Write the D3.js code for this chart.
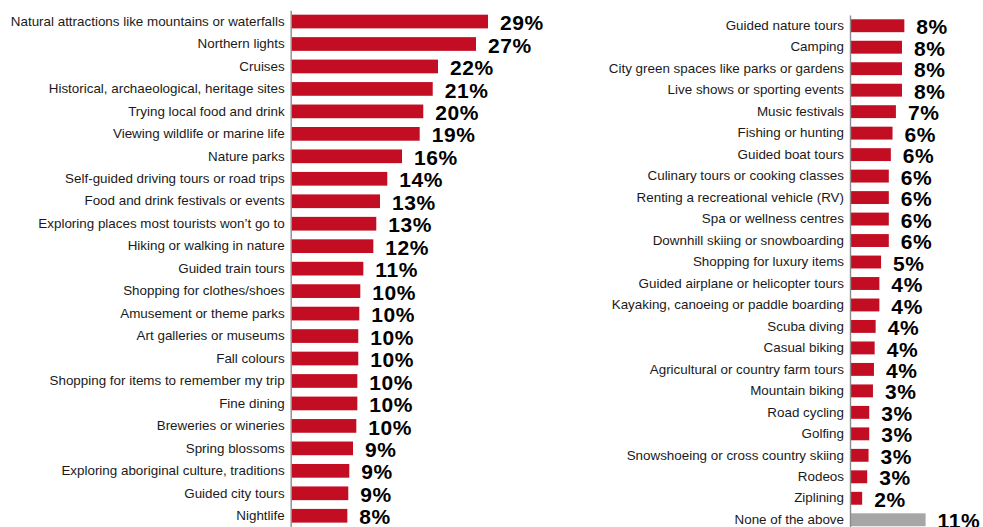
<!DOCTYPE html>
<html>
<head>
<meta charset="utf-8">
<script src="https://cdn.jsdelivr.net/npm/d3@7"></script>
<style>
  html, body { margin: 0; padding: 0; background: #fff; }
  svg { display: block; font-family: "Liberation Sans", Arial, sans-serif; }
</style>
</head>
<body>
<svg id="chart" width="983" height="527"></svg>
<script>
// Activities of interest, first column
const leftCategories = [
  "Natural attractions like mountains or waterfalls",
  "Northern lights",
  "Cruises",
  "Historical, archaeological, heritage sites",
  "Trying local food and drink",
  "Viewing wildlife or marine life",
  "Nature parks",
  "Self-guided driving tours or road trips",
  "Food and drink festivals or events",
  "Exploring places most tourists won\u2019t go to",
  "Hiking or walking in nature",
  "Guided train tours",
  "Shopping for clothes/shoes",
  "Amusement or theme parks",
  "Art galleries or museums",
  "Fall colours",
  "Shopping for items to remember my trip",
  "Fine dining",
  "Breweries or wineries",
  "Spring blossoms",
  "Exploring aboriginal culture, traditions",
  "Guided city tours",
  "Nightlife"
];
const leftValues = [
  29.23, 27.45, 21.82, 21.04, 19.64, 19.11, 16.49, 14.31, 13.23, 12.68, 12.24,
  10.76, 10.31, 10.16, 10.01, 10.01, 9.87, 9.87, 9.72, 9.23, 8.68, 8.53, 8.39
];

// Activities of interest, second column
const rightCategories = [
  "Guided nature tours",
  "Camping",
  "City green spaces like parks or gardens",
  "Live shows or sporting events",
  "Music festivals",
  "Fishing or hunting",
  "Guided boat tours",
  "Culinary tours or cooking classes",
  "Renting a recreational vehicle (RV)",
  "Spa or wellness centres",
  "Downhill skiing or snowboarding",
  "Shopping for luxury items",
  "Guided airplane or helicopter tours",
  "Kayaking, canoeing or paddle boarding",
  "Scuba diving",
  "Casual biking",
  "Agricultural or country farm tours",
  "Mountain biking",
  "Road cycling",
  "Golfing",
  "Snowshoeing or cross country skiing",
  "Rodeos",
  "Ziplining",
  "None of the above"
];
const rightValues = [
  8.05, 7.7, 7.7, 7.7, 6.8, 6.3, 6.05, 5.75, 5.75, 5.75, 5.75, 4.6,
  4.35, 4.35, 3.8, 3.65, 3.55, 3.4, 2.85, 2.85, 2.75, 2.55, 1.8, 11.2
];
const noneCategory = "None of the above";

const RED = "#c30d23";
const GREY = "#a6a6a6";
const pct = v => Math.round(v) + "%";

const svg = d3.select("#chart");

function drawPanel(cats, vals, opt) {
  const data = cats.map((c, i) => ({ cat: c, value: vals[i] }));

  const y = d3.scaleBand()
    .domain(cats)
    .range([opt.top, opt.bottom])
    .paddingInner(opt.pad)
    .paddingOuter(opt.pad / 2);

  const x = d3.scaleLinear()
    .domain([0, 30])
    .range([opt.x0, opt.x0 + 202.5]);

  const g = svg.append("g");

  // bars
  g.selectAll("rect.bar")
    .data(data)
    .join("rect")
    .attr("class", "bar")
    .attr("x", x(0) + 0.8)
    .attr("y", d => y(d.cat))
    .attr("width", d => x(d.value) - x(0) - 0.8)
    .attr("height", y.bandwidth())
    .attr("fill", d => d.cat === noneCategory ? GREY : RED);

  // value labels
  g.selectAll("text.val")
    .data(data)
    .join("text")
    .attr("class", "val")
    .attr("x", d => x(d.value) + 12)
    .attr("y", d => y(d.cat) + y.bandwidth() / 2 + 8.6)
    .attr("font-size", "21px")
    .attr("font-weight", "bold")
    .attr("letter-spacing", "0.6px")
    .attr("fill", "#000")
    .text(d => pct(d.value));

  // category axis
  const axis = d3.axisLeft(y).tickSize(0).tickSizeOuter(0).tickPadding(6);
  const ag = g.append("g")
    .attr("transform", `translate(${opt.x0},0)`)
    .call(axis);
  ag.select(".domain")
    .attr("stroke", "#8c8c8c")
    .attr("stroke-width", 1.4);
  ag.selectAll(".tick text")
    .attr("font-size", "13.4px")
    .attr("font-family", "\"Liberation Sans\", Arial, sans-serif")
    .attr("fill", "#1a1a1a")
    .attr("dy", null)
    .attr("y", 4.2);
}

drawPanel(leftCategories, leftValues, { x0: 290.7, top: 10.3, bottom: 527, pad: 0.39 });
drawPanel(rightCategories, rightValues, { x0: 850, top: 15, bottom: 530.5, pad: 0.4 });
</script>
</body>
</html>
